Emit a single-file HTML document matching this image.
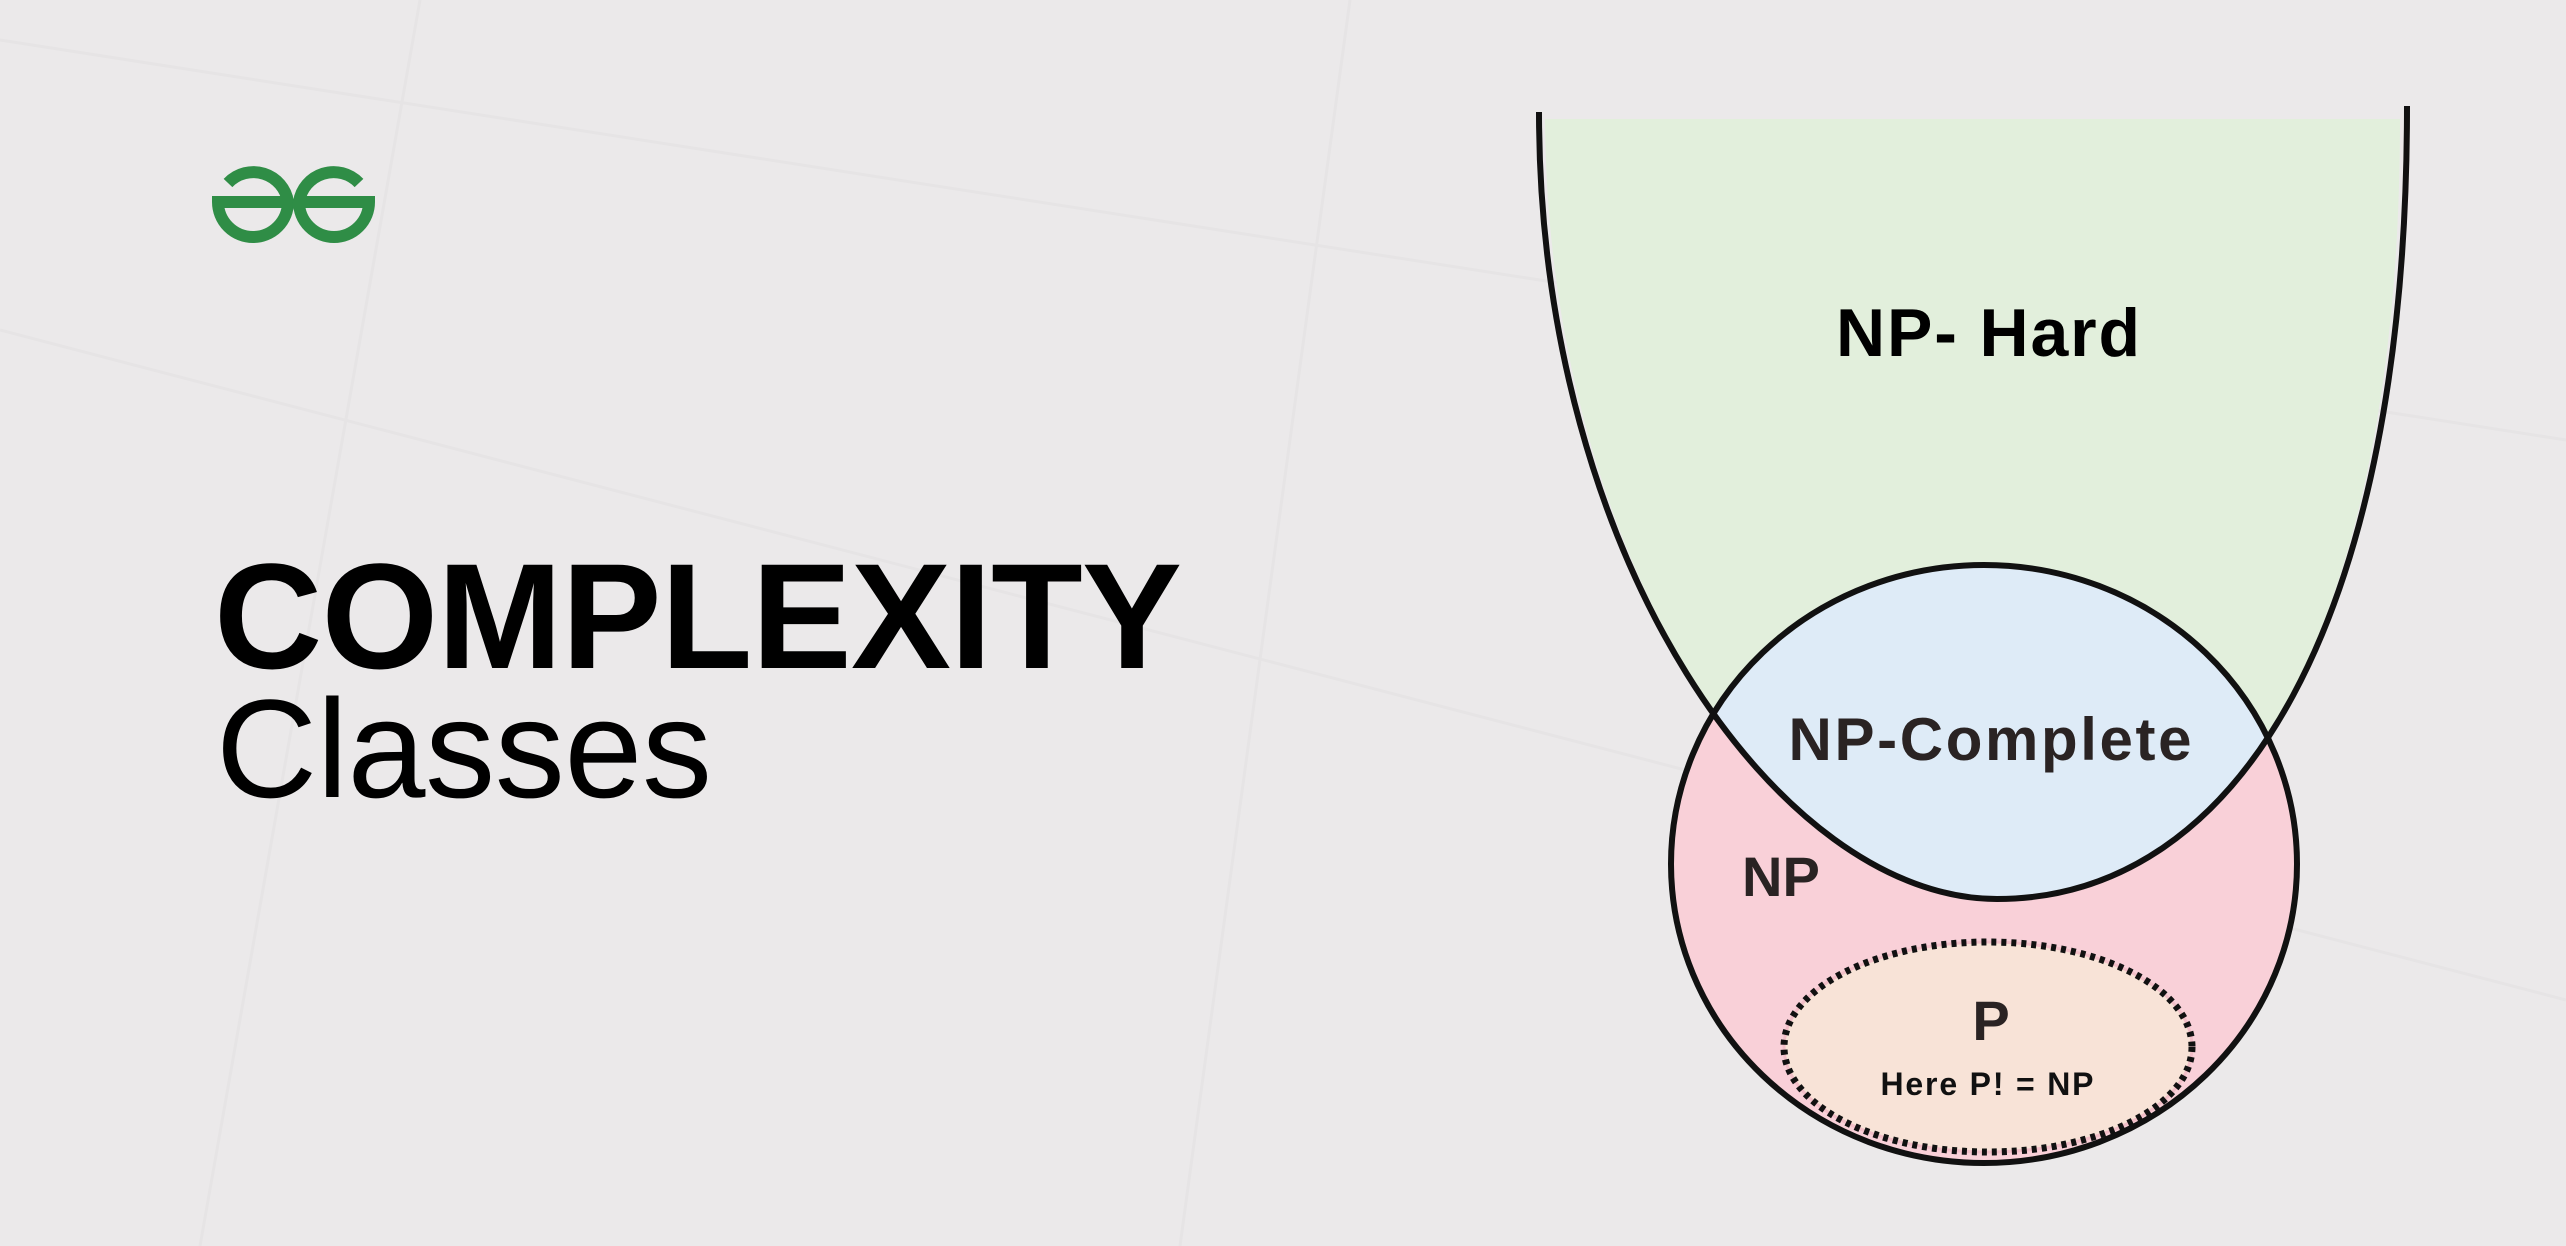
<!DOCTYPE html>
<html><head><meta charset="utf-8"><style>
html,body{margin:0;padding:0;background:#ebe9ea;}
svg{display:block;}
</style></head><body>
<svg width="2566" height="1246" viewBox="0 0 2566 1246" xmlns="http://www.w3.org/2000/svg">
<defs>
<clipPath id="uclip"><path d="M1539,80 L1539,112 C1539,560 1780,899 1997,899 C2240,899 2407,620 2407,106 L2407,80 Z"/></clipPath>
</defs>
<rect width="2566" height="1246" fill="#ebe9ea"/>
<g stroke="#e6e4e5" stroke-width="3" fill="none">
<line x1="0" y1="330" x2="2566" y2="1000"/>
<line x1="0" y1="40" x2="2566" y2="440"/>
<line x1="420" y1="0" x2="200" y2="1246"/>
<line x1="1350" y1="0" x2="1180" y2="1246"/>
</g>
<g fill="none" stroke="#2f8d46" stroke-width="12">
<path d="M228,183 A35,35 0 0 1 288,202 L218,202 A35,35 0 0 0 288,202"/>
<path d="M359,183 A35,35 0 0 0 299,202 L369,202 A35,35 0 0 1 299,202"/>
</g>
<text x="214" y="668" font-family="Liberation Sans, sans-serif" font-weight="bold" font-size="150" fill="#000" textLength="968">COMPLEXITY</text>
<text x="216" y="797" font-family="Liberation Sans, sans-serif" font-size="140" fill="#000" textLength="496">Classes</text>

<g>
<path d="M1545,119 L1545,112 C1545,560 1780,899 1997,899 C2240,899 2400,620 2400,119 Z" fill="#e2efdc"/>
<ellipse cx="1984" cy="864" rx="313" ry="299" fill="#f9d0d8"/>
<g clip-path="url(#uclip)"><ellipse cx="1984" cy="864" rx="313" ry="299" fill="#deebf7"/></g>
<ellipse cx="1988" cy="1047" rx="204" ry="105" fill="#f8e3d7" stroke="#f2bfc8" stroke-width="3"/>
<ellipse cx="1988" cy="1047" rx="204" ry="105" fill="none" stroke="#111" stroke-width="7" stroke-dasharray="5 5"/>
<ellipse cx="1984" cy="864" rx="313" ry="299" fill="none" stroke="#111" stroke-width="6"/>
<path d="M1539,112 C1539,560 1780,899 1997,899 C2240,899 2407,620 2407,106" fill="none" stroke="#111" stroke-width="6"/>
<text x="1988" y="356" text-anchor="middle" font-family="Liberation Sans, sans-serif" font-weight="bold" font-size="68" fill="#000" textLength="304">NP- Hard</text>
<text x="1990" y="760" text-anchor="middle" font-family="Liberation Sans, sans-serif" font-weight="bold" font-size="60" fill="#2a2323" textLength="403">NP-Complete</text>
<text x="1742" y="896" font-family="Liberation Sans, sans-serif" font-weight="bold" font-size="56" fill="#2a2323">NP</text>
<text x="1991" y="1040" text-anchor="middle" font-family="Liberation Sans, sans-serif" font-weight="bold" font-size="56" fill="#2a2323">P</text>
<text x="1987" y="1095" text-anchor="middle" font-family="Liberation Sans, sans-serif" font-weight="bold" font-size="32" fill="#111" textLength="213">Here P! = NP</text>
</g>
</svg>
</body></html>
